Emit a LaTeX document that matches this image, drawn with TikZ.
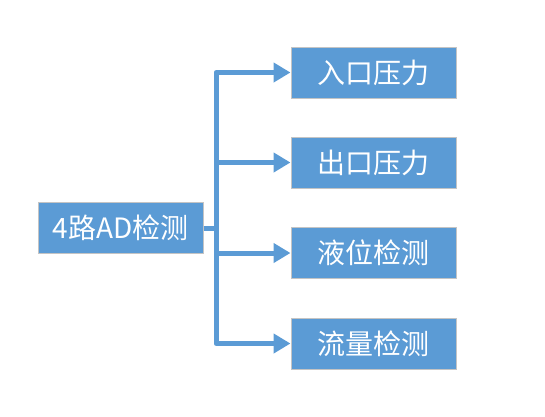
\documentclass[tikz,border=0pt]{standalone}
\usepackage{fontspec}
\setmainfont{Noto Sans CJK SC}
\usetikzlibrary{arrows.meta}
\definecolor{boxblue}{HTML}{5B9BD5}
\definecolor{boxedge}{HTML}{C4C4C4}
\begin{document}
\begin{tikzpicture}[x=1pt,y=1pt,
  box/.style={draw=boxedge, line width=1pt, fill=boxblue, text=white,
    minimum width=165pt, minimum height=51pt, inner sep=0pt,
    font=\fontsize{28}{30}\selectfont},
  conn/.style={draw=boxblue, line width=5pt, line join=round},
  tip/.style={-{Triangle[length=17pt,width=19pt]}}
]
\useasboundingbox (0,0) rectangle (545,-416);
\node[box] (L) at (120.5,-228) {4路AD检测};
\node[box] (B1) at (373.5,-72.5) {入口压力};
\node[box] (B2) at (373.5,-162.5) {出口压力};
\node[box] (B3) at (373.5,-253) {液位检测};
\node[box] (B4) at (373.5,-343.5) {流量检测};
\coordinate (T) at (216,-228);
\draw[conn] (L.east) -- (T);
\draw[conn,tip] (T) |- (B1.west);
\draw[conn,tip] (T) |- (B2.west);
\draw[conn,tip] (T) |- (B3.west);
\draw[conn,tip] (T) |- (B4.west);
\end{tikzpicture}
\end{document}
